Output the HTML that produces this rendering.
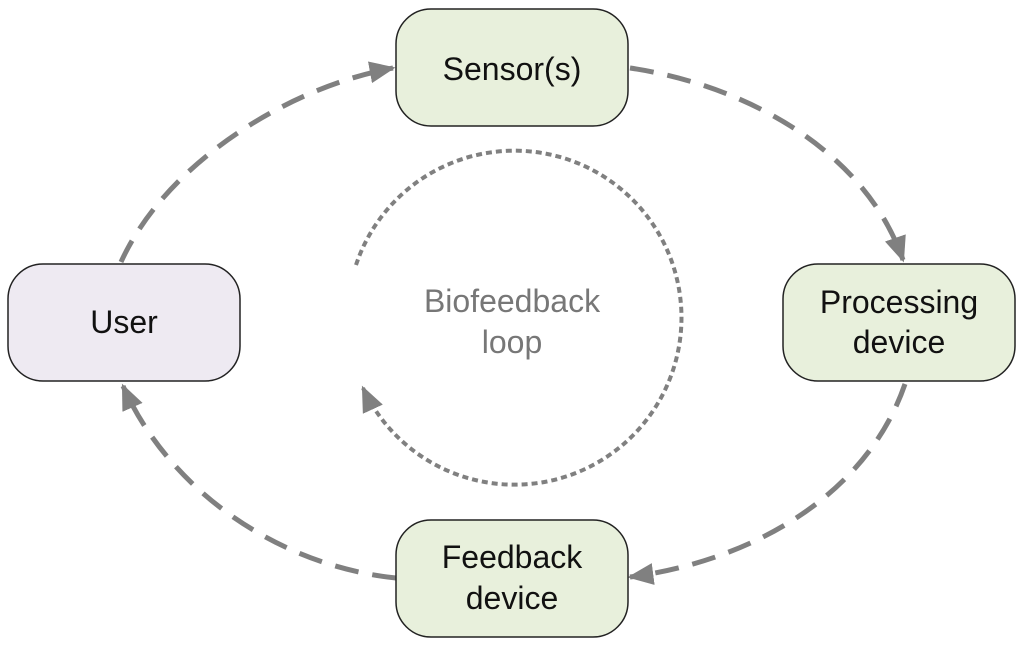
<!DOCTYPE html>
<html><head><meta charset="utf-8"><style>
html,body{margin:0;padding:0;background:#fff;}
svg{display:block;}
text{font-family:"Liberation Sans",Arial,sans-serif;font-size:32px;}
</style></head><body>
<svg width="1024" height="648" viewBox="0 0 1024 648" xmlns="http://www.w3.org/2000/svg">
<defs>
<marker id="a" viewBox="0 0 10 10" refX="9" refY="5" markerWidth="26" markerHeight="22" orient="auto" markerUnits="userSpaceOnUse" preserveAspectRatio="none">
<path d="M0,0 L10,5 L0,10 z" fill="#808080"/></marker>
</defs>
<g fill="none" stroke="#808080" stroke-width="5" stroke-dasharray="24,14">
<path d="M121,262 C165,165 285,88 393,68" marker-end="url(#a)"/>
<path d="M630,68 C745,85 865,150 903,260" marker-end="url(#a)"/>
<path d="M905,384 C865,500 745,562 630,577" marker-end="url(#a)"/>
<path d="M396,578 C280,566 170,492 123,386" marker-end="url(#a)"/>
</g>
<path d="M356,265 A167,167 0 1 1 363,388" fill="none" stroke="#808080" stroke-width="4" stroke-dasharray="6,4" marker-end="url(#a)"/>
<g stroke="#222" stroke-width="1.5">
<rect x="396" y="9" width="232" height="117" rx="35" fill="#e8f0dc"/>
<rect x="783" y="264" width="232" height="117" rx="35" fill="#e8f0dc"/>
<rect x="396" y="520" width="232" height="117" rx="35" fill="#e8f0dc"/>
<rect x="8" y="264" width="232" height="117" rx="35" fill="#eeeaf2"/>
</g>
<g text-anchor="middle" fill="#111">
<text x="512" y="80">Sensor(s)</text>
<text x="899" y="313">Processing</text>
<text x="899" y="353">device</text>
<text x="512" y="568">Feedback</text>
<text x="512" y="609">device</text>
<text x="124" y="333">User</text>
</g>
<g text-anchor="middle" fill="#777">
<text x="512" y="312">Biofeedback</text>
<text x="512" y="353">loop</text>
</g>
</svg>
</body></html>
